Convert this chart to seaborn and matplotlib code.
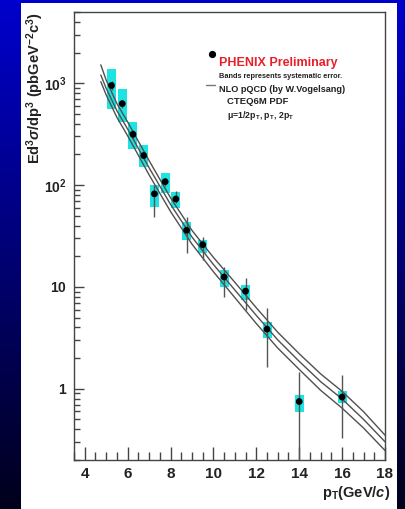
import numpy as np
import pandas as pd
import matplotlib
matplotlib.use("Agg")
import matplotlib.pyplot as plt
import seaborn as sns
from matplotlib.patches import Rectangle
from matplotlib.ticker import FixedLocator, MultipleLocator, LogLocator, NullFormatter

# ---------------- data ----------------
pt = [5.25, 5.75, 6.25, 6.75, 7.25, 7.75, 8.25, 8.75, 9.5, 10.5, 11.5, 12.5, 14.0, 16.0]
xsec = [950, 630, 315, 195, 82, 108, 73, 36, 26, 12.5, 9.1, 3.85, 0.75, 0.83]
sys_lo = [555, 413, 224, 152, 61, 84, 60, 29, 21.6, 10.0, 7.4, 3.15, 0.59, 0.72]
sys_hi = [1373, 871, 413, 245, 100, 131, 86, 43, 29.0, 14.7, 10.5, 4.5, 0.86, 0.95]
stat_lo = [860, 570, 285, 176, 49, 98, 66, 21.4, 18.5, 7.9, 5.9, 1.63, 0.05, 0.33]
stat_hi = [1040, 690, 345, 214, 100, 118, 88, 49, 31, 15.7, 12.3, 6.2, 1.46, 1.36]

pt_theory = [4.75, 5.0, 5.5, 6.0, 7.0, 8.0, 9.0, 10.0, 11.0, 12.0, 13.0, 14.0, 15.0, 16.0, 17.0, 18.0]
nlo_half = [1514, 1072, 631, 417, 174, 75, 35.9, 19.5, 11.1, 6.24, 3.59, 2.21, 1.40, 0.944, 0.596, 0.351]
nlo_one = [1202, 891, 537, 355, 148, 64.6, 30.9, 16.6, 9.33, 5.25, 3.02, 1.86, 1.175, 0.794, 0.501, 0.302]
nlo_two = [1035, 767, 462, 305, 126, 55, 26.3, 14.1, 7.85, 4.37, 2.51, 1.55, 0.966, 0.646, 0.412, 0.248]

ytick_vals = [1, 10, 100, 1000]
ytick_labels = [r"$\mathbf{1}$", r"$\mathbf{10}$", r"$\mathbf{10^{2}}$", r"$\mathbf{10^{3}}$"]
xtick_vals = [4, 6, 8, 10, 12, 14, 16, 18]

df_pts = pd.DataFrame({"pt": pt, "xsec": xsec})
df_th = pd.concat([
    pd.DataFrame({"pt": pt_theory, "xsec": nlo_half, "scale": "0.5"}),
    pd.DataFrame({"pt": pt_theory, "xsec": nlo_one, "scale": "1"}),
    pd.DataFrame({"pt": pt_theory, "xsec": nlo_two, "scale": "2"}),
])

# ---------------- style ----------------
sns.set_theme(style="ticks")
plt.rcParams["font.family"] = ["Liberation Sans", "DejaVu Sans"]
plt.rcParams["font.weight"] = "bold"
plt.rcParams["mathtext.fontset"] = "custom"
plt.rcParams["mathtext.rm"] = "Liberation Sans:bold"
plt.rcParams["mathtext.bf"] = "Liberation Sans:bold"
plt.rcParams["mathtext.it"] = "Liberation Sans:italic:bold"
plt.rcParams["mathtext.bfit"] = "Liberation Sans:italic:bold"
plt.rcParams["mathtext.sf"] = "Liberation Sans:bold"

W, H = 406, 509
fig = plt.figure(figsize=(W / 100, H / 100), dpi=100)

# background gradient
bg = fig.add_axes([0, 0, 1, 1], zorder=-10)
grad = np.linspace(0, 1, 256).reshape(-1, 1)
top_c = np.array([0, 0, 205]) / 255
bot_c = np.array([0, 0, 28]) / 255
img = top_c[None, None, :] * (1 - grad[:, :, None]) + bot_c[None, None, :] * grad[:, :, None]
bg.imshow(img, aspect="auto", extent=[0, 1, 0, 1], origin="upper")
bg.add_patch(Rectangle((21 / W, 0), (397 - 21) / W, (H - 3) / H, facecolor="white", edgecolor="none"))
bg.set_xlim(0, 1)
bg.set_ylim(0, 1)
bg.axis("off")

def fx(px):
    return px / W

def fy(py):
    return 1 - py / H

ax = fig.add_axes([fx(74), fy(460), fx(385) - fx(74), fy(12) - fy(460)])
ax.set_facecolor("white")
ax.set_yscale("log")
ax.set_xlim(3.5, 18)
ax.set_ylim(0.2, 5000)

# systematic bands
ax.bar(pt, np.array(sys_hi) - np.array(sys_lo), bottom=sys_lo, width=0.42,
       color="#1ee3e3", edgecolor="none", zorder=1)

# NLO curves
sns.lineplot(data=df_th, x="pt", y="xsec", units="scale", estimator=None,
             color="#505050", linewidth=1.0, ax=ax, zorder=2, legend=False)

# statistical error bars
ax.vlines(pt, stat_lo, stat_hi, color="#555555", linewidth=1.0, zorder=3)

# points
sns.scatterplot(data=df_pts, x="pt", y="xsec", color="black", s=24,
                edgecolor="none", ax=ax, zorder=4, legend=False)

# axes styling
for s in ax.spines.values():
    s.set_color("#444444")
    s.set_linewidth(1.0)
ax.xaxis.set_major_locator(FixedLocator(xtick_vals))
ax.xaxis.set_minor_locator(MultipleLocator(0.5))
ax.yaxis.set_major_locator(FixedLocator(ytick_vals))
ax.set_yticklabels(ytick_labels)
ax.yaxis.set_minor_locator(LogLocator(base=10, subs=np.arange(2, 10)))
ax.yaxis.set_minor_formatter(NullFormatter())
ax.set_xticklabels([str(v) for v in xtick_vals])
ax.tick_params(axis="x", which="major", direction="in", length=9.5, width=1, color="#444444",
               labelsize=11, pad=5, labelcolor="#222222")
ax.tick_params(axis="x", which="minor", direction="in", length=5.5, width=1, color="#444444")
ax.tick_params(axis="y", which="major", direction="in", length=7, width=1, color="#444444",
               labelsize=10, pad=5, labelcolor="#222222")
ax.tick_params(axis="y", which="minor", direction="in", length=4.5, width=1, color="#444444")
ax.tick_params(top=False, right=False, which="both")
for lab in ax.get_xticklabels():
    lab.set_fontweight("bold")
ax.set_xlabel("")
ax.set_ylabel("")

# axis titles
fig.text(fx(390), fy(493), r"$\mathbf{p_{T}(GeV/}\mathbfit{c}\mathbf{)}$", ha="right", va="center",
         fontsize=10.5, color="#222222")
fig.text(fx(35), fy(88), r"$\mathbf{Ed^{3}}\sigma\mathbf{/dp^{3}\ (pbGeV^{-2}c^{3})}$", rotation=90,
         ha="center", va="center", fontsize=10.5, color="#222222")

# legend
fig.add_artist(plt.Line2D([fx(212)], [fy(54)], marker="o", color="black",
                          markersize=4.2, linestyle="none"))
fig.add_artist(plt.Line2D([fx(206), fx(215)], [fy(85), fy(85)], color="#777777", linewidth=1.0))
fig.text(fx(219), fy(63), "PHENIX Preliminary", color="#e8202a", fontsize=9.0, fontweight="bold",
         va="center", ha="left")
fig.text(fx(219), fy(76), "Bands represents systematic error.", color="#222222", fontsize=5.3,
         fontweight="bold", va="center", ha="left")
fig.text(fx(219), fy(89), "NLO pQCD (by W.Vogelsang)", color="#222222", fontsize=6.6,
         fontweight="bold", va="center", ha="left")
fig.text(fx(227), fy(102), "CTEQ6M PDF", color="#222222", fontsize=6.8,
         fontweight="bold", va="center", ha="left")
fig.text(fx(227), fy(115), "μ=1/2p$_\\mathbf{T}$, p$_\\mathbf{T}$, 2p$_\\mathbf{T}$", color="#222222",
         fontsize=6.3, fontweight="bold", va="center", ha="left")

fig.savefig("out.png", dpi=100)
